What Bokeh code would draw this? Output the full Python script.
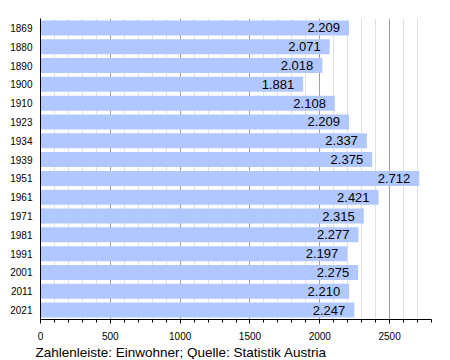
from bokeh.plotting import figure
from bokeh.models import ColumnDataSource, Range1d, FactorRange, SingleIntervalTicker, Title
from bokeh.core.properties import value
from bokeh.embed import file_html
from bokeh.resources import INLINE

years = ["1869", "1880", "1890", "1900", "1910", "1923", "1934", "1939", "1951",
         "1961", "1971", "1981", "1991", "2001", "2011", "2021"]
population = [2209, 2071, 2018, 1881, 2108, 2209, 2337, 2375, 2712,
              2421, 2315, 2277, 2197, 2275, 2210, 2247]
labels = [f"{v:,}".replace(",", ".") for v in population]
caption = "Zahlenleiste: Einwohner; Quelle: Statistik Austria"

FONT = "Liberation Sans"

src = ColumnDataSource(dict(year=years, pop=population, label=labels))

p = figure(width=440, height=359,
           y_range=FactorRange(factors=list(reversed(years))),
           x_range=Range1d(0, 2800),
           output_backend="svg", toolbar_location=None,
           min_border_left=40, min_border_top=18, min_border_right=9, min_border_bottom=40)
p.outline_line_color = None
p.background_fill_color = "white"

p.hbar(y="year", right="pop", left=0, height=0.8, source=src,
       fill_color="#b0c8ff", line_color=None)
p.text(x="pop", y="year", text="label", source=src, x_offset=-9,
       text_align="right", text_baseline="middle",
       text_font=value(FONT), text_font_size="13px", text_color="black")

p.xaxis.ticker = SingleIntervalTicker(interval=500, num_minor_ticks=5)
p.xgrid.grid_line_color = "#a0a0a0"
p.xgrid.minor_grid_line_color = "#e0e0e0"
p.ygrid.grid_line_color = None

for ax in (p.xaxis[0], p.yaxis[0]):
    ax.axis_line_color = "black"
    ax.major_label_text_font = FONT
    ax.major_label_text_font_size = "10px"
    ax.major_label_text_color = "black"

p.xaxis.major_tick_line_color = "black"
p.xaxis.minor_tick_line_color = "black"
p.xaxis.major_tick_out = 4
p.xaxis.major_tick_in = 0
p.xaxis.minor_tick_out = 3
p.xaxis.minor_tick_in = 0
p.xaxis.major_label_standoff = 8

p.yaxis.major_tick_line_color = None
p.yaxis.minor_tick_line_color = None
p.yaxis.major_tick_out = 0
p.yaxis.major_tick_in = 0
p.yaxis.minor_tick_out = 0
p.yaxis.minor_tick_in = 0
p.yaxis.major_label_standoff = 8

t = Title(text=caption, align="left", text_font=FONT, text_font_size="13.5px",
          text_font_style="normal", text_color="black", offset=-5, standoff=0)
p.add_layout(t, "below")

open("out.html", "w").write(file_html(p, INLINE))
